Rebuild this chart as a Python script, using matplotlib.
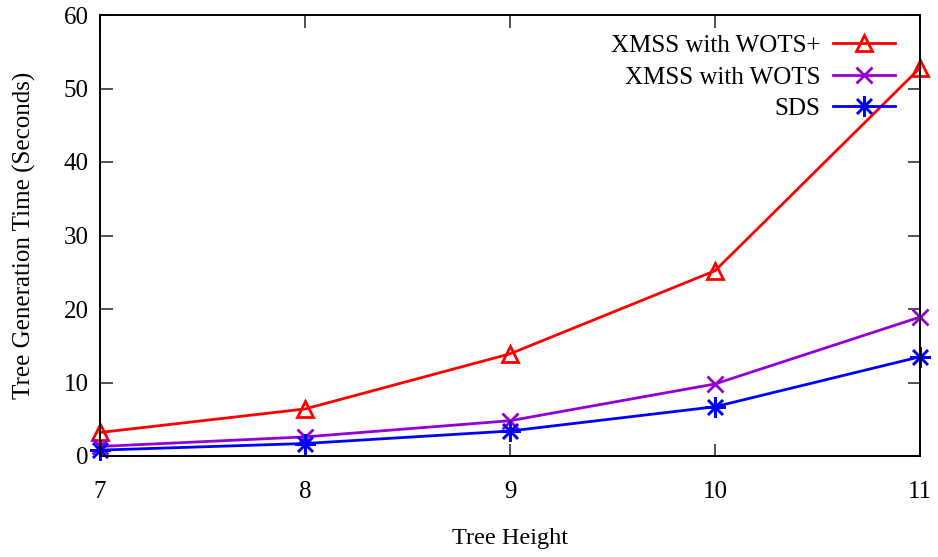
import matplotlib
matplotlib.use("Agg")
import matplotlib.pyplot as plt

heights = [7, 8, 9, 10, 11]
wots_plus = [3.2, 6.4, 13.9, 25.2, 52.8]
wots = [1.3, 2.6, 4.8, 9.8, 18.9]
sds = [0.8, 1.7, 3.4, 6.7, 13.5]
labels = ["XMSS with WOTS+", "XMSS with WOTS", "SDS"]
yticks = [0, 10, 20, 30, 40, 50, 60]

plt.rcParams['font.family'] = ['Liberation Serif', 'DejaVu Serif']

fig = plt.figure(figsize=(9.38, 5.57), dpi=100)
ax = fig.add_axes([100/938, 1-456/557, 820/938, 441/557])

lw = 2.0
ax.plot(heights, wots_plus, color='#ff0000', lw=lw, marker='^', ms=12,
        mfc='none', mec='#ff0000', mew=2.0, label=labels[0], clip_on=False)
ax.plot(heights, wots, color='#9400d3', lw=lw, marker='x', ms=12,
        mew=2.0, label=labels[1], clip_on=False)
ax.plot(heights, sds, color='#0000ff', lw=lw, marker=(8, 2, 0), ms=15,
        mew=1.8, label=labels[2], clip_on=False)

ax.set_xlim(7, 11)
ax.set_ylim(0, 60)
ax.set_xticks(heights)
ax.set_yticks(yticks)
ax.tick_params(direction='in', length=9, width=1.2, top=True, right=True,
               labelsize=18, color='#333333')
ax.tick_params(axis='x', pad=18)
ax.tick_params(axis='y', pad=8)
for s in ax.spines.values():
    s.set_linewidth(1.4)

ax.set_xlabel("Tree Height", fontsize=17.5, labelpad=18)
ax.set_ylabel("Tree Generation Time (Seconds)", fontsize=18, labelpad=20)

leg = ax.legend(loc='upper right', bbox_to_anchor=(0.982, 0.978), frameon=False,
                markerfirst=False, fontsize=18, handlelength=2.5,
                labelspacing=0.36, handletextpad=0.5, borderaxespad=0)
for t in leg.get_texts():
    t.set_ha('right')
leg._legend_box.align = 'right'

fig.savefig("out.png", dpi=100)
